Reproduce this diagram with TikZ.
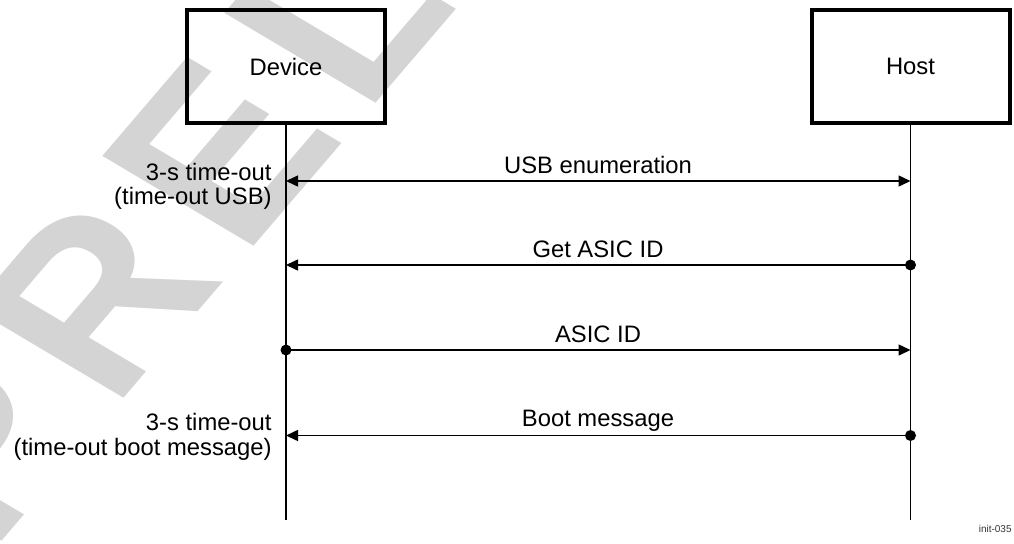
\documentclass[tikz,border=0pt]{standalone}
\usepackage{fontspec}
\setmainfont{Liberation Sans}
\usetikzlibrary{arrows.meta}
\definecolor{wm}{RGB}{212,212,212}
\begin{document}
\begin{tikzpicture}[x=0.5pt,y=-0.5pt,
  lifebox/.style={draw, line width=2pt, minimum width=99pt, minimum height=56.5pt, inner sep=0, font=\fontsize{11.9}{14}\selectfont},
  lifeline/.style={line width=0.75pt},
  msg/.style={line width=0.75pt},
  lbl/.style={font=\fontsize{11.9}{14}\selectfont, inner sep=0, anchor=base},
  side/.style={font=\fontsize{11.9}{14}\selectfont, inner sep=0, anchor=base east},
  tipend/.style={-{Triangle[length=6pt,width=5.5pt]}},
  tipboth/.style={{Triangle[length=6pt,width=5.5pt]}-{Triangle[length=6pt,width=5.5pt]}},
  dot/.style={circle, fill, inner sep=0, minimum size=5.5pt}
]
\useasboundingbox (0,0) rectangle (1014,543);
% watermark
\begin{scope}[shift={(-9,553.5)}, xscale=1.2, rotate=54.5]
  \node[transform shape, anchor=base west, inner sep=0, text=wm, font=\fontsize{112.5}{112.5}\selectfont\bfseries] (wmark) at (0,0) {P\kern12.5pt R\kern12.5pt E\kern12.5pt L};
\end{scope}
% lifelines
\node[lifebox] (dev) at (286,66.5) {Device};
\node[lifebox] (host) at (910.5,66.5) {Host};
\coordinate (devend) at (286,520);
\coordinate (hostend) at (910.5,520);
\draw[lifeline] (dev.south) -- (devend);
\draw[lifeline] (host.south) -- (hostend);
% message anchors
\coordinate (d1) at (286,181);   \coordinate (h1) at (910.5,181);
\coordinate (d2) at (286,265);   \coordinate (h2) at (910.5,265);
\coordinate (d3) at (286,350);   \coordinate (h3) at (910.5,350);
\coordinate (d4) at (286,435.5); \coordinate (h4) at (910.5,435.5);
\draw[msg, tipboth] (d1) -- (h1);
\draw[msg, tipend] (h2) -- (d2);
\draw[msg, tipend] (d3) -- (h3);
\draw[msg, tipend] (h4) -- (d4);
\node[dot] (h2dot) at (h2) {};
\node[dot] (d3dot) at (d3) {};
\node[dot] (h4dot) at (h4) {};
% message labels
\node[lbl] (m1) at (598,173) {USB enumeration};
\node[lbl] (m2) at (598,257) {Get ASIC ID};
\node[lbl] (m3) at (598,342) {ASIC ID};
\node[lbl] (m4) at (598,426.5) {Boot message};
% side labels
\node[side] (t1a) at (272,180) {3-s time-out};
\node[side] (t1b) at (272,204.5) {(time-out USB)};
\node[side] (t2a) at (272,430) {3-s time-out};
\node[side] (t2b) at (272,455) {(time-out boot message)};
% figure id
\node[anchor=base east, inner sep=0, font=\fontsize{5}{6}\selectfont, text=black!80] (fid) at (1012,532) {init-035};
\end{tikzpicture}
\end{document}
